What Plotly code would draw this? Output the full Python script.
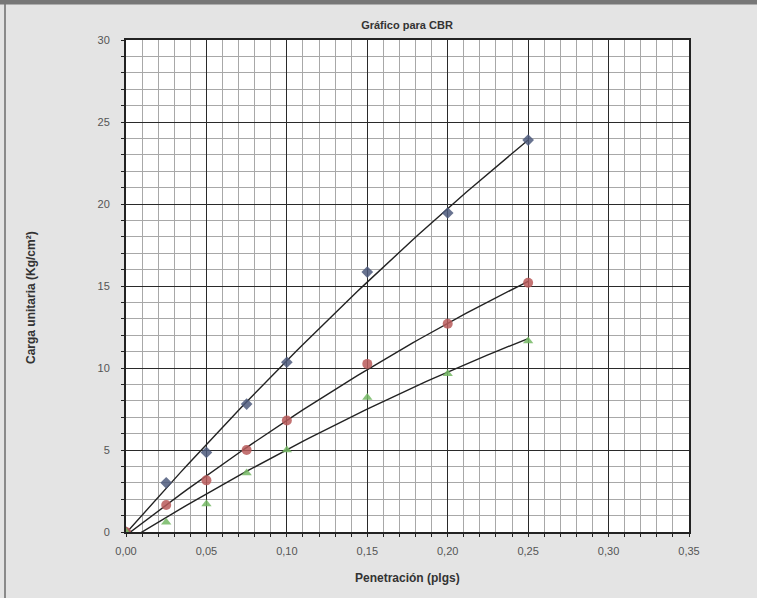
import numpy as np
import plotly.graph_objects as go

penetracion = [0.0, 0.025, 0.05, 0.075, 0.10, 0.15, 0.20, 0.25]
carga_56 = [0.0, 3.0, 4.85, 7.8, 10.35, 15.85, 19.45, 23.9]
carga_25 = [0.0, 1.65, 3.15, 5.0, 6.8, 10.25, 12.7, 15.2]
carga_10 = [0.0, 0.6, 1.7, 3.6, 5.0, 8.2, 9.65, 11.65]

x_ticks = [0.0, 0.05, 0.10, 0.15, 0.20, 0.25, 0.30, 0.35]
x_tick_labels = ["0,00", "0,05", "0,10", "0,15", "0,20", "0,25", "0,30", "0,35"]
y_ticks = [0, 5, 10, 15, 20, 25, 30]

series = [
    (carga_56, "#4d5b7c", "diamond", 9),
    (carga_25, "#b85a5a", "circle", 10),
    (carga_10, "#74b864", "triangle-up", 9),
]

fig = go.Figure()
xs = np.array(penetracion)
xfit = np.linspace(0, 0.25, 60)
for vals, color, sym, size in series:
    coef = np.polyfit(xs, np.array(vals), 2)
    yfit = np.polyval(coef, xfit)
    fig.add_trace(go.Scatter(x=xfit, y=yfit, mode="lines",
                             line=dict(color="#222222", width=1.4),
                             showlegend=False, hoverinfo="skip"))
    fig.add_trace(go.Scatter(x=penetracion, y=vals, mode="markers",
                             marker=dict(color=color, symbol=sym, size=size,
                                         opacity=0.85, line=dict(width=0)),
                             showlegend=False))

# plot area: x 126..689, y 40..532 px
W, H = 757, 598
L, R, T, B = 126, 68, 40, 66
pw, ph = W - L - R, H - T - B

def px(x):
    return (x - L) / pw

def py(y):
    return (H - B - y) / ph

fig.update_layout(
    width=W, height=H,
    margin=dict(l=L, r=R, t=T, b=B),
    paper_bgcolor="#e4e4e4",
    plot_bgcolor="#ffffff",
    font=dict(family="Liberation Sans, Arial, sans-serif", color="#444444", size=11),
    title=dict(text="<b>Gráfico para CBR</b>", x=px(407), xanchor="center",
               xref="paper", yref="container", y=1 - 25 / H, yanchor="middle",
               font=dict(size=11, color="#333333")),
    shapes=[
        dict(type="line", xref="paper", yref="paper", x0=px(5), x1=px(5), y0=py(600), y1=py(0),
             line=dict(color="#8a8a8a", width=2)),
        dict(type="line", xref="paper", yref="paper", x0=px(-5), x1=px(770), y0=py(2), y1=py(2),
             line=dict(color="#777777", width=5)),
    ],
    annotations=[
        dict(text="<b>Penetración (plgs)</b>", xref="paper", yref="paper",
             x=px(407), y=py(578), xanchor="center", yanchor="middle", showarrow=False,
             font=dict(size=12, color="#333333")),
        dict(text="<b>Carga unitaria (Kg/cm²)</b>", xref="paper", yref="paper",
             x=px(31), y=py(298), xanchor="center", yanchor="middle", showarrow=False,
             textangle=-90, font=dict(size=12, color="#333333")),
    ],
)
fig.update_xaxes(
    range=[0, 0.35], tickvals=x_ticks, ticktext=x_tick_labels,
    showgrid=True, gridcolor="#2a2a2a", gridwidth=1.4,
    minor=dict(dtick=0.01, showgrid=True, gridcolor="#a8a8a8", gridwidth=1,
               ticks="outside", ticklen=3, tickcolor="#222222"),
    showline=True, linecolor="#222222", linewidth=2, mirror=True,
    ticks="", zeroline=False, automargin=False, ticklabelstandoff=8,
    tickfont=dict(size=11, color="#555555"),
)
fig.update_yaxes(
    range=[0, 30], tickvals=y_ticks,
    showgrid=True, gridcolor="#2a2a2a", gridwidth=1.4,
    minor=dict(dtick=1, showgrid=True, gridcolor="#a8a8a8", gridwidth=1,
               ticks="outside", ticklen=3, tickcolor="#222222"),
    showline=True, linecolor="#222222", linewidth=2, mirror=True,
    ticks="", zeroline=False, automargin=False, ticklabelstandoff=12,
    tickfont=dict(size=11, color="#555555"),
)

fig.write_html("out.html", config={"displayModeBar": False},
               post_script="document.body.style.margin='0';document.body.style.background='#e4e4e4';")
